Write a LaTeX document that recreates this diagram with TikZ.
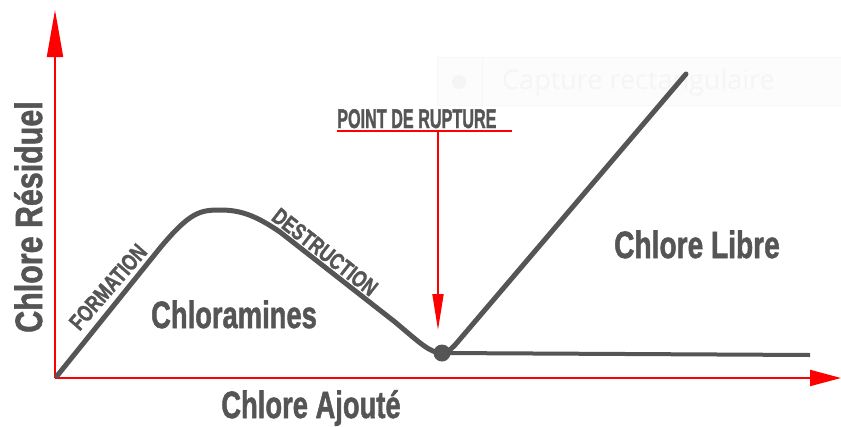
\documentclass[tikz,border=0pt]{standalone}
\usepackage{fontspec}
\usepackage{graphicx}
\setmainfont{Liberation Sans}
\newfontfamily\heavy[BoldFeatures={FakeBold=1.6}]{Liberation Sans}
\newfontfamily\uifont{Open Sans}
\usetikzlibrary{arrows.meta}
\definecolor{ink}{HTML}{555555}
\definecolor{axisred}{HTML}{FF0000}
\tikzset{
  axisline/.style={draw=axisred, line width=2pt},
  curveline/.style={draw=ink, line width=5pt, line cap=round, line join=round},
  bigtext/.style={text=ink, font=\heavy\bfseries\fontsize{38}{40}\selectfont, inner sep=0pt},
  slopetext/.style={text=ink, font=\heavy\bfseries\fontsize{23}{24}\selectfont, inner sep=0pt},
  faint/.style={text=black!4, font=\uifont\fontsize{27}{30}\selectfont, inner sep=0pt}
}
\begin{document}
\begin{tikzpicture}[x=1pt,y=-1pt]
\useasboundingbox (0,0) rectangle (841,426);
\fill[white] (0,0) rectangle (841,426);
% faint screenshot overlay
\draw[black!3, line width=1pt, fill=black!1] (437,57) rectangle (845,105);
\draw[black!3, line width=1pt] (482,57) -- (482,105);
\fill[black!4] (459,82) circle (7);
\node[faint, anchor=west] (cap) at (502,82) {Capture rectangulaire};
% axes
\coordinate (O) at (55,378);
\coordinate (ytop) at (55,10);
\coordinate (xend) at (841,378);
\draw[axisline, -{Triangle[length=47pt, width=16pt]}] (O) -- (ytop);
\draw[axisline, -{Triangle[length=31pt, width=16pt]}] (O) -- (xend);
% curve
\node[circle, fill=ink, minimum size=17pt, inner sep=0pt] (bp) at (442,353) {};
\coordinate (c0) at (57,376);
\coordinate (top) at (686,74);
\coordinate (hend) at (810,355);
\draw[curveline] (c0) -- (160,248) .. controls (190,212) and (200,210) .. (220,210)
  .. controls (240,210) and (255,215) .. (280,232) -- (395,322)
  .. controls (420,343) and (430,353) .. (bp.center);
\draw[curveline] (bp.center) .. controls (447,353) and (450,350) .. (455,345) -- (top);
\draw[draw=ink, line width=4pt] (bp.center) -- (hend);
% point de rupture
\node[text=ink, font=\heavy\bfseries\fontsize{27}{28}\selectfont, inner sep=0pt, anchor=base west] (pdr) at (337,128) {\scalebox{0.6}[1]{POINT DE RUPTURE}};
\coordinate (ul0) at (337,131);
\coordinate (ul1) at (512,131);
\coordinate (arr0) at (438,131);
\coordinate (arr1) at (438,330);
\draw[axisline] (ul0) -- (ul1);
\draw[draw=axisred, line width=1.8pt, -{Triangle[length=36pt, width=11pt]}] (arr0) -- (arr1);
% labels
\node[bigtext, anchor=base, rotate=90] (ylab) at (42,217) {\scalebox{0.8}[1]{Chlore Résiduel}};
\node[bigtext, anchor=base] (chlam) at (234,328) {\scalebox{0.72}[1]{Chloramines}};
\node[bigtext, anchor=base] (xlab) at (311,418) {\scalebox{0.72}[1]{Chlore Ajouté}};
\node[bigtext, anchor=base] (libre) at (697,258) {\scalebox{0.74}[1]{Chlore Libre}};
\node[slopetext, rotate=49] (form) at (108,287) {\scalebox{0.76}[1]{FORMATION}};
\node[slopetext, rotate=-38] (destr) at (325,252) {\scalebox{0.76}[1]{DESTRUCTION}};
\end{tikzpicture}
\end{document}
